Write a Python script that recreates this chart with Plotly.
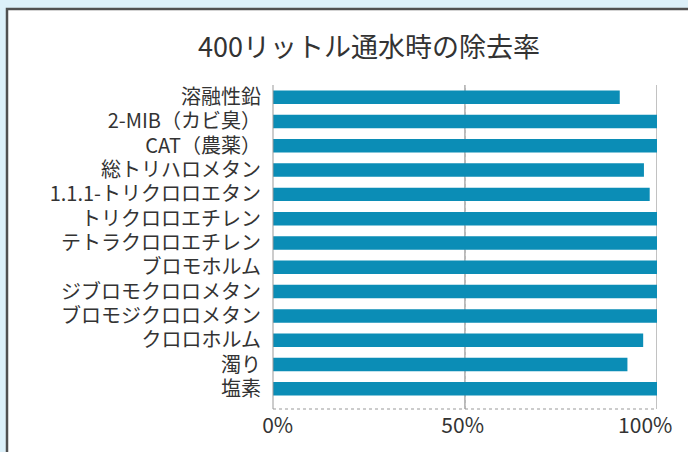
import plotly.graph_objects as go

categories = ["溶融性鉛", "2-MIB（カビ臭）", "CAT（農薬）", "総トリハロメタン", "1.1.1-トリクロロエタン",
              "トリクロロエチレン", "テトラクロロエチレン", "ブロモホルム", "ジブロモクロロメタン",
              "ブロモジクロロメタン", "クロロホルム", "濁り", "塩素"]
removal_rate = [90.3, 100, 100, 96.6, 98.1, 100, 100, 100, 100, 100, 96.4, 92.3, 100]
tick_values = [0, 50, 100]
tick_labels = ["\u00a0\u00a00%", "50%\u00a0", "100%\u00a0\u00a0\u00a0\u00a0\u00a0"]
title_text = "400リットル通水時の除去率"

W, H = 688, 452
L, R, T, B = 273, 31, 85, 43
pw, ph = W - L - R, H - T - B

def px(x):
    return (x - L) / pw

def py(y):
    return (H - B - y) / ph

font = "Noto Sans CJK JP, Noto Sans, sans-serif"

fig = go.Figure()
fig.add_trace(go.Bar(
    x=removal_rate, y=categories, orientation="h",
    marker=dict(color="#0b8db6", line=dict(width=0)),
    hoverinfo="skip",
))

shapes = [
    # outer frame
    dict(type="rect", xref="paper", yref="paper", x0=px(7), x1=px(720), y0=py(480), y1=py(9),
         line=dict(color="#505050", width=2.5), fillcolor="white", layer="below"),
    # plot border (bottom, dotted)
    dict(type="line", xref="paper", yref="paper", x0=0, x1=1, y0=0, y1=0,
         line=dict(color="#999999", width=1, dash="dot")),
    # left axis line
    dict(type="line", xref="paper", yref="paper", x0=0, x1=0, y0=0, y1=1,
         line=dict(color="#999999", width=1)),
    # 50% line
    dict(type="line", xref="x", yref="paper", x0=50, x1=50, y0=0, y1=1,
         line=dict(color="#8a8a8a", width=1.2), layer="below"),
    # 100% line
    dict(type="line", xref="x", yref="paper", x0=100, x1=100, y0=0, y1=1,
         line=dict(color="#999999", width=1.2), layer="below"),
]

fig.update_layout(
    width=W, height=H,
    margin=dict(l=L, r=R, t=T, b=B, autoexpand=False),
    paper_bgcolor="#dcf0f9",
    plot_bgcolor="white",
    showlegend=False,
    bargap=0.445,
    shapes=shapes,
    title=dict(text=title_text, xref="container", yref="container", x=369 / W, xanchor="center",
               y=1 - 48 / H, yanchor="middle",
               font=dict(family=font, size=27, color="#333333")),
    xaxis=dict(range=[0, 100], tickvals=tick_values, ticktext=tick_labels,
               tickfont=dict(family=font, size=21, color="#333333"),
               showgrid=True, dtick=10, gridcolor="#c8c8c8", griddash="dot", gridwidth=1,
               zeroline=False, showline=False, ticks="", ticklabelstandoff=2,
               ticklabeloverflow="allow", fixedrange=True),
    yaxis=dict(categoryorder="array", categoryarray=categories, range=[12.83, -0.5],
               tickfont=dict(family=font, size=20, color="#333333"),
               showgrid=False, zeroline=False, showline=False, ticks="",
               ticklabelstandoff=11, fixedrange=True),
)

fig.write_html("out.html", config={"displayModeBar": False},
               post_script="document.body.style.margin='0';document.body.style.overflow='hidden';")
